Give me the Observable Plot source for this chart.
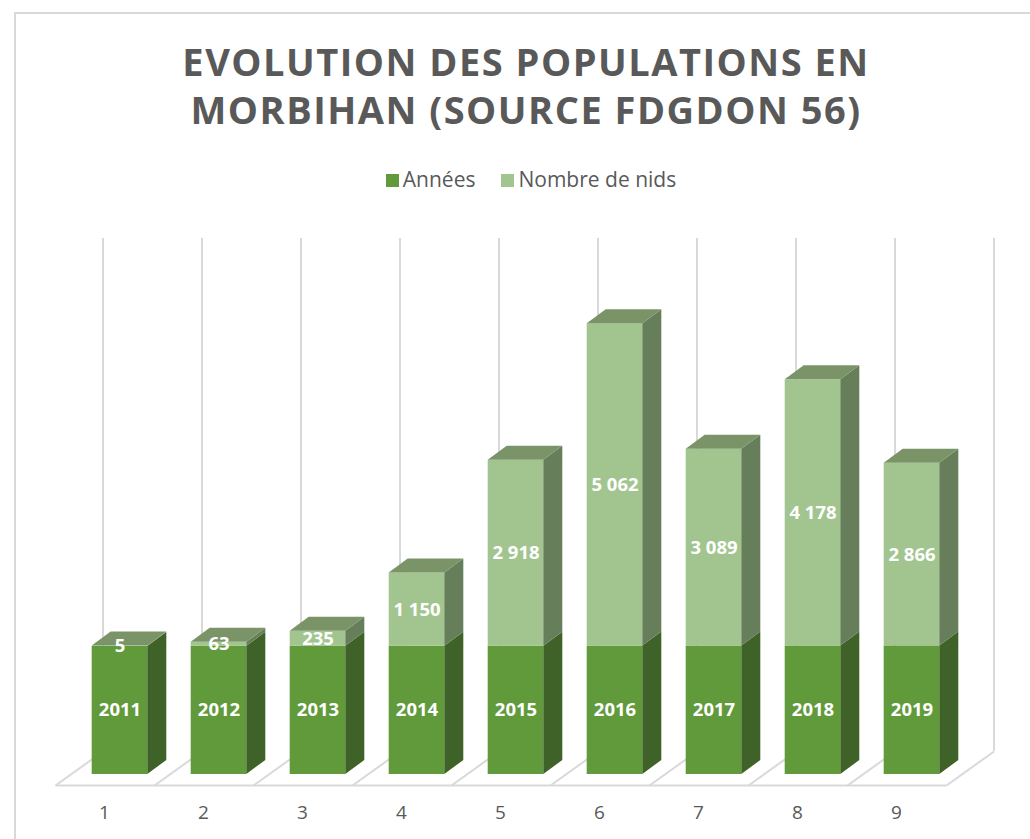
<!DOCTYPE html>
<html>
<head>
<meta charset="utf-8">
<script src="https://cdn.jsdelivr.net/npm/d3@7"></script>
<script src="https://cdn.jsdelivr.net/npm/@observablehq/plot@0.6"></script>
<style>
  html, body { margin: 0; padding: 0; background: #fff; overflow: hidden; }
  #wrap { position: relative; width: 1030px; height: 839px; overflow: hidden; font-family: "Open Sans", sans-serif; }
  #frame { position: absolute; left: 14px; top: 12px; width: 1100px; height: 900px; border: 2px solid #D9D9D9; box-sizing: border-box; }
  #title { position: absolute; left: 0; width: 1052px; top: 37px; text-align: center; color: #595959;
           font-weight: 700; font-size: 38px; line-height: 48px; letter-spacing: 1.5px; }
  #legend { position: absolute; left: 0; width: 1062px; top: 165px; text-align: center; color: #595959; font-size: 21px; line-height: 28px; }
  #legend span.item { display: inline-block; margin: 0 13px; }
  #legend span.sw { display: inline-block; width: 13px; height: 13px; margin-right: 4px; vertical-align: 0px; }
  #chart { position: absolute; left: 0; top: 0; }
</style>
</head>
<body>
<div id="wrap">
  <div id="frame"></div>
  <div id="chart"></div>
  <div id="title">EVOLUTION DES POPULATIONS EN<br>MORBIHAN (SOURCE FDGDON 56)</div>
  <div id="legend"></div>
</div>
<script>
// ---- data ----
const categories = [1, 2, 3, 4, 5, 6, 7, 8, 9];
const tickLabels = ["1", "2", "3", "4", "5", "6", "7", "8", "9"];
const years = [2011, 2012, 2013, 2014, 2015, 2016, 2017, 2018, 2019];
const nests = [5, 63, 235, 1150, 2918, 5062, 3089, 4178, 2866];
const seriesNames = ["Années", "Nombre de nids"];

// ---- styles ----
const colors = {
  yearFront: "#619A3B", yearSide: "#3F6229",
  nestFront: "#A2C590", nestSide: "#667F5A", nestTop: "#7A9468",
  grid: "#D9D9D9", text: "#595959"
};

// legend
document.getElementById("legend").innerHTML =
  `<span class="item"><span class="sw" style="background:${colors.yearFront}"></span>${seriesNames[0]}</span>` +
  `<span class="item"><span class="sw" style="background:${colors.nestFront}"></span>${seriesNames[1]}</span>`;

// ---- layout / scales ----
const W = 1030, H = 839;
const mL = 20.5, mR = 19.5, mB = 65;
const yMax = 8000;
const pxPerValue = 0.0637;
const mT = (H - mB) - yMax * pxPerValue;
const pxPerX = (W - mL - mR) / 10;
const ux = px => px / pxPerX;        // pixel -> x units
const uy = px => px / pxPerValue;    // pixel (upwards) -> y units

const halfW = ux(27.8);
const depthX = ux(19), depthY = uy(14);       // bar depth
const floorFrontX = ux(-15), floorFrontY = uy(-11);
const floorBackX = ux(32.5), floorBackY = uy(23);
const wallTop = uy(774 - 238);

const rows = categories.map((c, i) => ({cat: c, year: years[i], nests: nests[i], label: tickLabels[i]}));

// floor & walls
const bounds = d3.range(categories.length + 1).map(k => k + 0.5);
const floorDiag = bounds.map(b => ({x1: b + floorFrontX, y1: floorFrontY, x2: b + floorBackX, y2: floorBackY}));
const floorFront = [{x1: bounds[0] + floorFrontX, y1: floorFrontY, x2: bounds[bounds.length - 1] + floorFrontX, y2: floorFrontY}];
const gridLines = bounds.map(b => ({x: b + floorBackX, y1: floorBackY, y2: wallTop}));

// bar faces
const segs = [];
rows.forEach(r => {
  segs.push({cat: r.cat, lo: 0, hi: r.year, side: colors.yearSide, front: colors.yearFront, key: "y" + r.cat});
  segs.push({cat: r.cat, lo: r.year, hi: r.year + r.nests, side: colors.nestSide, front: colors.nestFront, key: "n" + r.cat});
});
const sidePts = segs.flatMap(s => [
  {x: s.cat + halfW, y1: s.lo, y2: s.hi, key: s.key, fill: s.side},
  {x: s.cat + halfW + depthX, y1: s.lo + depthY, y2: s.hi + depthY, key: s.key, fill: s.side}
]);
const topPts = rows.flatMap(r => {
  const t = r.year + r.nests;
  return [
    {y: t, x1: r.cat - halfW, x2: r.cat + halfW, key: "t" + r.cat},
    {y: t + depthY, x1: r.cat - halfW + depthX, x2: r.cat + halfW + depthX, key: "t" + r.cat}
  ];
});

const fmt = n => n.toLocaleString("fr-FR").replace(/[\u202F\u00A0]/g, " ");

const plot = Plot.plot({
  width: W, height: H,
  marginLeft: mL, marginRight: mR, marginTop: mT, marginBottom: mB,
  x: {domain: [0, 10], axis: null},
  y: {domain: [0, yMax], axis: null},
  style: {fontFamily: "Open Sans, sans-serif", background: "transparent", overflow: "visible"},
  marks: [
    Plot.ruleX(gridLines, {x: "x", y1: "y1", y2: "y2", stroke: colors.grid, strokeWidth: 2}),
    Plot.link(floorDiag, {x1: "x1", y1: "y1", x2: "x2", y2: "y2", stroke: colors.grid, strokeWidth: 2}),
    Plot.link(floorFront, {x1: "x1", y1: "y1", x2: "x2", y2: "y2", stroke: colors.grid, strokeWidth: 2}),
    // fronts
    Plot.rect(segs, {x1: d => d.cat - halfW, x2: d => d.cat + halfW, y1: "lo", y2: "hi", fill: d => d.front}),
    // sides
    Plot.areaY(sidePts, {x: "x", y1: "y1", y2: "y2", z: "key", fill: d => d.fill, curve: "linear"}),
    // tops
    Plot.areaX(topPts, {y: "y", x1: "x1", x2: "x2", z: "key", fill: colors.nestTop, curve: "linear"}),
    // labels
    Plot.text(rows, {x: "cat", y: d => d.year / 2, text: d => String(d.year), fill: "white", fontWeight: "bold", fontSize: 18.5}),
    Plot.text(rows, {x: "cat", y: d => d.year + d.nests / 2, text: d => fmt(d.nests), fill: "white", fontWeight: "bold", fontSize: 18.5}),
    // category tick labels
    Plot.text(rows, {x: "cat", y: 0, text: "label", dx: -15.5, dy: 38, fill: colors.text, fontSize: 19})
  ]
});
document.getElementById("chart").appendChild(plot);
</script>
</body>
</html>
